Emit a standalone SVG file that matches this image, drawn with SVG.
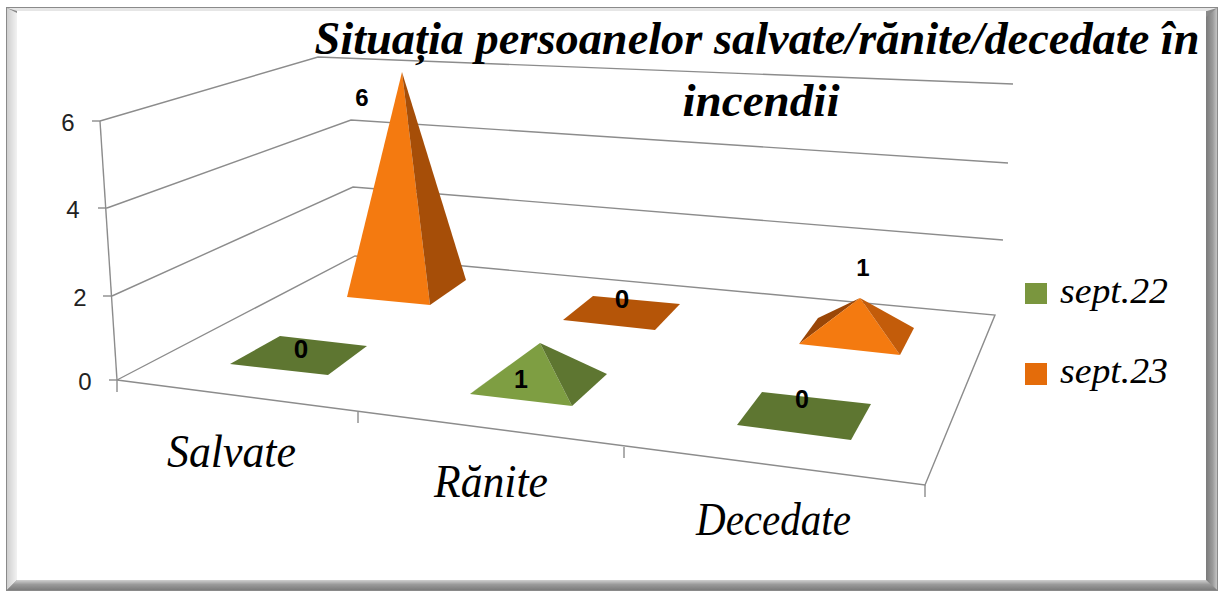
<svg xmlns="http://www.w3.org/2000/svg" width="1227" height="592" viewBox="0 0 1227 592">
<defs>
<linearGradient id="gl" x1="0" y1="0" x2="1" y2="0"><stop offset="0" stop-color="#cfcfcf"/><stop offset="1" stop-color="#f2f2f2"/></linearGradient>
<linearGradient id="gr" x1="0" y1="0" x2="1" y2="0"><stop offset="0" stop-color="#7a7a7a"/><stop offset="0.6" stop-color="#9a9a9a"/><stop offset="1" stop-color="#c4c4c4"/></linearGradient>
<linearGradient id="gb" x1="0" y1="0" x2="0" y2="1"><stop offset="0" stop-color="#d0d0d0"/><stop offset="0.45" stop-color="#9a9a9a"/><stop offset="1" stop-color="#7c7c7c"/></linearGradient>
<style>
.grid{fill:none;stroke:#8c8c8c;stroke-width:1.4}
.ax{font-family:"Liberation Sans",Arial,sans-serif;font-size:24px;fill:#222;text-anchor:middle}
.dl{font-family:"Liberation Sans",Arial,sans-serif;font-weight:bold;fill:#000;text-anchor:middle}
.cat{font-family:"Liberation Serif","Times New Roman",serif;font-style:italic;font-size:46px;fill:#000}
.ttl{font-family:"Liberation Serif","Times New Roman",serif;font-style:italic;font-weight:bold;font-size:46px;fill:#000}
.leg{font-family:"Liberation Serif","Times New Roman",serif;font-style:italic;font-size:36px;fill:#000}
.o1{fill:#f47a10}.o2{fill:#a64e08}.o3{fill:#b55508}
.g1{fill:#7e9e42}.g2{fill:#5e7631}
</style>
</defs>
<g id="frame">
<rect x="6" y="7" width="1212" height="584" fill="#8a8a8a"/>
<polygon points="7,8 1217,8 1207,11 17,11" fill="#e6e6e6"/>
<polygon points="7,8 17,13 17,580 7,590" fill="url(#gl)"/>
<polygon points="1217,8 1206,17 1206,580 1217,590" fill="url(#gr)"/>
<polygon points="7,590 17,580 1206,580 1217,590" fill="url(#gb)"/>
<rect x="17" y="11" width="1189" height="569" fill="#fff"/>
</g>
<g id="connectors">
<polyline class="grid" points="100,121 318,57 1013,84"/>
<polyline class="grid" points="107,208 351,120 1008,163"/>
<polyline class="grid" points="112,296 353,187 1003,240"/>
<polyline class="grid" points="117,380 355,256 995,315 925,485 117,380"/>
<line class="grid" x1="100" y1="121" x2="117" y2="380"/>
<line class="grid" x1="92" y1="121" x2="100" y2="121"/>
<line class="grid" x1="98" y1="208" x2="107" y2="208"/>
<line class="grid" x1="103" y1="296" x2="112" y2="296"/>
<line class="grid" x1="109" y1="380" x2="117" y2="380"/>
<line class="grid" x1="117" y1="380" x2="117" y2="392"/>
<line class="grid" x1="358" y1="412" x2="358" y2="423"/>
<line class="grid" x1="624" y1="447" x2="624" y2="458"/>
<line class="grid" x1="925" y1="485" x2="925" y2="497"/>
</g>
<g id="axis-labels">
<text class="ax" x="68" y="131">6</text>
<text class="ax" x="73" y="218">4</text>
<text class="ax" x="80" y="306">2</text>
<text class="ax" x="85" y="390">0</text>
</g>
<g id="title">
<text class="ttl" x="757" y="54" text-anchor="middle" textLength="885" lengthAdjust="spacingAndGlyphs">Situația persoanelor salvate/rănite/decedate în</text>
<text class="ttl" x="761" y="116" text-anchor="middle" textLength="157" lengthAdjust="spacingAndGlyphs">incendii</text>
</g>
<g id="sept23-salvate">
<polygon class="o1" points="402,72 347,297 430,305"/>
<polygon class="o2" points="402,72 430,305 466,280"/>
</g>
<g id="sept23-ranite">
<polygon class="o3" points="563,320 593,296 680,304 655,330"/>
</g>
<g id="sept23-decedate">
<polygon fill="#9a4607" points="860,298 818,318 799,344"/>
<polygon class="o1" points="860,298 799,344 900,355"/>
<polygon fill="#c35c0a" points="860,298 900,355 914,328"/>
</g>
<g id="sept22-salvate">
<polygon class="g2" points="230,364 280,336 367,346 328,375"/>
</g>
<g id="sept22-ranite">
<polygon fill="#4f6628" points="540,343 470,394 478,388"/>
<polygon class="g1" points="540,343 470,394 572,406"/>
<polygon class="g2" points="540,343 572,406 607,374"/>
</g>
<g id="sept22-decedate">
<polygon class="g2" points="737,425 762,392 871,404 851,440"/>
</g>
<g id="data-labels">
<text class="dl" x="362" y="106" font-size="24">6</text>
<text class="dl" x="301" y="358" font-size="26">0</text>
<text class="dl" x="622" y="308" font-size="26">0</text>
<text class="dl" x="521" y="388" font-size="25">1</text>
<text class="dl" x="863" y="276" font-size="24">1</text>
<text class="dl" x="802" y="408" font-size="25">0</text>
</g>
<g id="categories">
<text class="cat" x="167" y="467" textLength="129" lengthAdjust="spacingAndGlyphs">Salvate</text>
<text class="cat" x="434" y="497" textLength="114" lengthAdjust="spacingAndGlyphs">Rănite</text>
<text class="cat" x="696" y="535" textLength="155" lengthAdjust="spacingAndGlyphs">Decedate</text>
</g>
<g id="legend">
<rect x="1025" y="283" width="22" height="21" fill="#7a963e"/>
<text class="leg" x="1060" y="303" textLength="108" lengthAdjust="spacingAndGlyphs">sept.22</text>
<rect x="1025" y="363" width="22" height="22" fill="#e46c0a"/>
<text class="leg" x="1060" y="383" textLength="108" lengthAdjust="spacingAndGlyphs">sept.23</text>
</g>
</svg>
